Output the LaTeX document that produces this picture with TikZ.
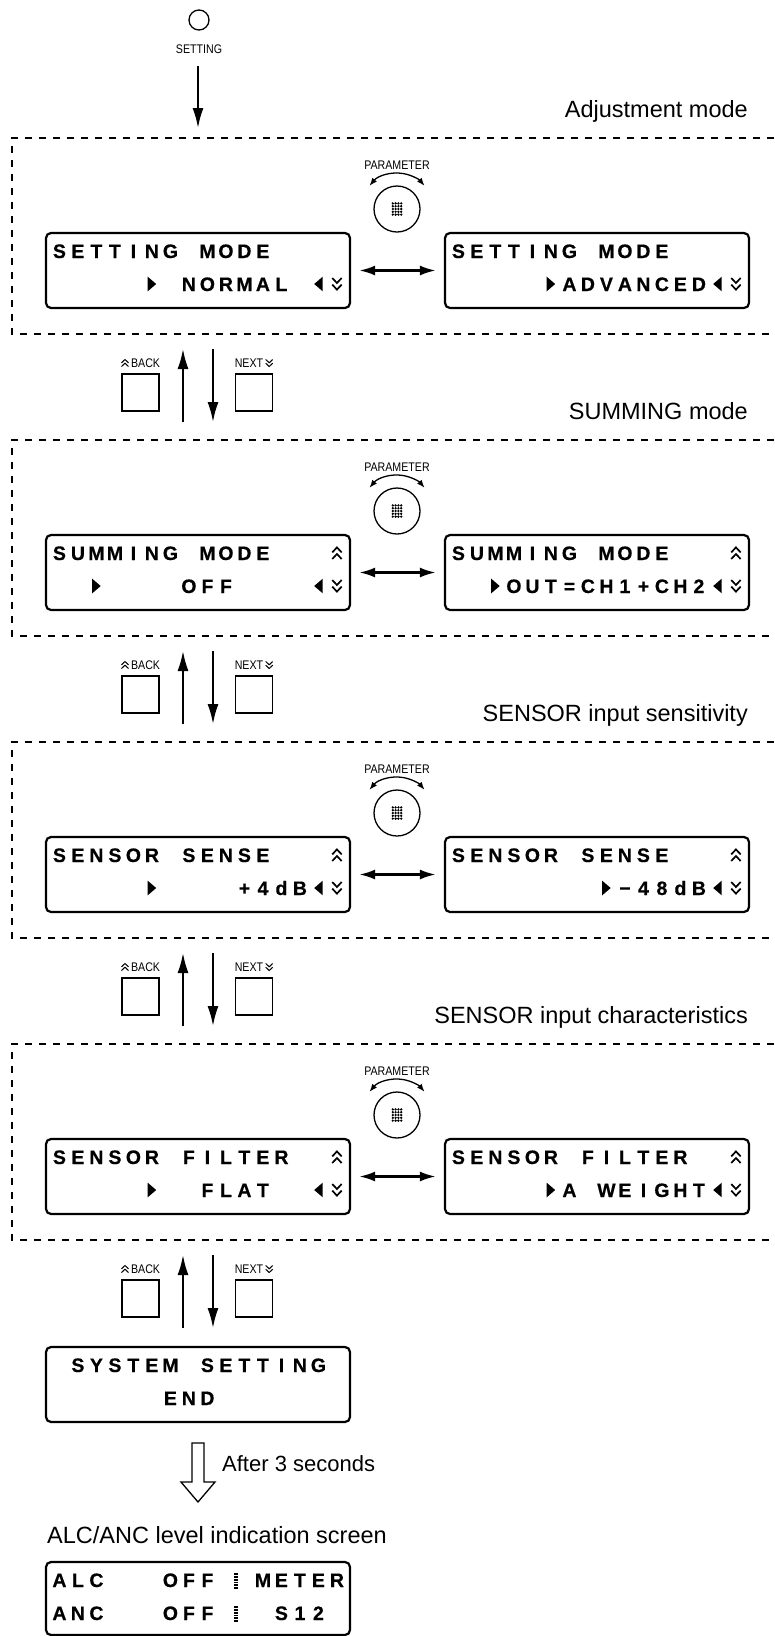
\documentclass[tikz,border=0pt]{standalone}
\usepackage{fontspec}
\setmainfont{Liberation Sans}
\newfontfamily\narrowfamily[FakeStretch=0.85]{Liberation Sans}
\newfontfamily\lcdfamily[FakeBold=0.4]{Liberation Sans Bold}
\usetikzlibrary{arrows.meta}

% one character per LCD cell, "*" is an empty cell
\newlength\lcdcell
\setlength\lcdcell{18.5pt}
\newcommand\lcdglyph[1]{\makebox[\lcdcell][c]{#1}}
\def\lcdrow#1{\lcdstep#1\relax}
\def\lcdstep#1{\ifx#1\relax\else\ifx#1*\lcdglyph{}\else\lcdglyph{#1}\fi\expandafter\lcdstep\fi}

% LCD symbols
\newcommand\tright{\tikz[x=1pt,y=1pt,baseline=0pt]\fill (0,-0.3)--(0,14.3)--(8.5,7)--cycle;}
\newcommand\tleft{\tikz[x=1pt,y=1pt,baseline=0pt]\fill (8.5,-0.3)--(8.5,14.3)--(0,7)--cycle;}
\newcommand\chup{\tikz[x=1pt,y=1pt,baseline=0pt]\draw[line width=1.7pt] (0,1)--(4.7,6)--(9.4,1) (0,7.6)--(4.7,12.6)--(9.4,7.6);}
\newcommand\chdn{\tikz[x=1pt,y=1pt,baseline=0pt]\draw[line width=1.7pt] (0,13)--(4.7,8)--(9.4,13) (0,6.4)--(4.7,1.4)--(9.4,6.4);}
\newcommand\chups{\tikz[x=1pt,y=1pt,baseline=0pt]\draw[line width=1pt] (0,0.5)--(3.5,3.8)--(7,0.5) (0,4.2)--(3.5,7.5)--(7,4.2);}
\newcommand\chdns{\tikz[x=1pt,y=1pt,baseline=0pt]\draw[line width=1pt] (0,7.5)--(3.5,4.2)--(7,7.5) (0,3.8)--(3.5,0.5)--(7,3.8);}
\newcommand\dotbar{\tikz[x=1pt,y=1pt,baseline=0pt]{\useasboundingbox (0,0) rectangle (3,12);
  \foreach \k in {0,1,2,3,4,5} \fill (-9,-2+\k*2.8) rectangle (-5.3,-0.2+\k*2.8);}}

\begin{document}
\begin{tikzpicture}[x=1pt,y=-1pt,>={Latex[length=20pt,width=11pt]},
  lcd/.style={draw,line width=2.2pt,rounded corners=5pt,minimum width=304pt,minimum height=75pt,inner sep=0pt},
  lcdline/.style={anchor=base west,inner sep=0pt,font=\lcdfamily\fontsize{19.5}{20}\selectfont},
  dashbox/.style={line width=2.2pt,dash pattern=on 7pt off 7pt},
  button/.style={draw,line width=1.3pt,minimum size=37pt,inner sep=0pt},
  small/.style={anchor=base,inner sep=0pt,font=\narrowfamily\fontsize{12.5}{14}\selectfont},
  big/.style={inner sep=0pt,font=\fontsize{23.5}{26}\selectfont},
  flow/.style={->,line width=2pt},
  swap/.style={>={Latex[length=16pt,width=10pt]},<->,line width=2.5pt,shorten <=8pt,shorten >=8pt},
  turn/.style={>={Latex[length=8pt,width=6pt]},<->,line width=1.3pt}]
\useasboundingbox (0,0) rectangle (774,1636);

% SETTING key
\node[draw,circle,minimum size=20pt,inner sep=0pt,line width=1.3pt] (setbtn) at (199,20) {};
\node[small] (setlbl) at (199,53) {SETTING};
\coordinate (setfrom) at (198,66);
\coordinate (setto) at (198,128);
\draw[flow] (setfrom) -- (setto);

% the four setting screens
\foreach \by/\mode/\ltop/\lbot/\rtop/\rbot [count=\i] in {
  138/Adjustment mode/SETTING*MODE/*****\tright*NORMAL*\tleft\chdn/SETTING*MODE/*****\tright ADVANCED\tleft\chdn,
  440/SUMMING mode/SUMMING*MODE***\chup/**\tright****OFF****\tleft\chdn/SUMMING*MODE***\chup/**\tright OUT=CH1+CH2\tleft\chdn,
  742/SENSOR input sensitivity/SENSOR*SENSE***\chup/*****\tright****+4dB\tleft\chdn/SENSOR*SENSE***\chup/********\tright−48dB\tleft\chdn,
  1044/SENSOR input characteristics/SENSOR*FILTER**\chup/*****\tright**FLAT**\tleft\chdn/SENSOR*FILTER**\chup/*****\tright A*WEIGHT\tleft\chdn}
{
  \draw[dashbox] (774,\by) -- (12,\by) -- (12,\by+196) -- (774,\by+196);
  \node[big,anchor=base east] (mode\i) at (748,\by-21) {\mode};
  \node[small] (par\i) at (397,\by+31) {PARAMETER};
  \node[draw,circle,minimum size=46pt,inner sep=0pt,line width=1.3pt] (dial\i) at (397,\by+71) {};
  \foreach \gx in {-4.2,-1.4,1.4,4.2} \foreach \gy in {-5.6,-2.8,0,2.8,5.6}
    \fill (397+\gx,\by+71+\gy) circle (1.3);
  \draw[turn] (dial\i.center) ++(-140:36) arc[start angle=-140,end angle=-40,radius=36];
  \node[lcd] (lcdL\i) at (198,\by+132.5) {};
  \node[lcd] (lcdR\i) at (597,\by+132.5) {};
  \node[lcdline] (lcdLa\i) at (50,\by+120) {\expandafter\lcdrow\expandafter{\ltop}};
  \node[lcdline] (lcdLb\i) at (50,\by+153) {\expandafter\lcdrow\expandafter{\lbot}};
  \node[lcdline] (lcdRa\i) at (449,\by+120) {\expandafter\lcdrow\expandafter{\rtop}};
  \node[lcdline] (lcdRb\i) at (449,\by+153) {\expandafter\lcdrow\expandafter{\rbot}};
  \draw[swap] (lcdL\i) -- (lcdR\i);
}

% BACK / NEXT keys between the screens
\foreach \dy [count=\j] in {334,636,938,1240} {
  \node[small] (backlbl\j) at (140.5,\dy+33) {\chups\,BACK};
  \node[small] (nextlbl\j) at (254,\dy+33) {NEXT\,\chdns};
  \node[button] (back\j) at (140.5,\dy+58.5) {};
  \node[button] (next\j) at (254,\dy+58.5) {};
  \coordinate (upfrom\j) at (183,\dy+88);
  \coordinate (upto\j) at (183,\dy+15);
  \coordinate (dnfrom\j) at (213,\dy+15);
  \coordinate (dnto\j) at (213,\dy+88);
  \draw[flow] (upfrom\j) -- (upto\j);
  \draw[flow] (dnfrom\j) -- (dnto\j);
}

% end of the setting
\node[lcd] (sysend) at (198,1384.5) {};
\node[lcdline] (sysendA) at (50,1372) {\lcdrow{*SYSTEM*SETTING}};
\node[lcdline] (sysendB) at (50,1405) {\lcdrow{******END}};
\draw[line width=1.3pt] (192,1443) -- (204,1443) -- (204,1482) -- (215,1482) -- (198,1502) -- (181,1482) -- (192,1482) -- cycle;
\node[big,anchor=base west,font=\fontsize{22}{24}\selectfont] (after) at (222,1471) {After 3 seconds};
\node[big,anchor=base west] (alclbl) at (47,1543) {ALC/ANC level indication screen};
\node[lcd,minimum height=73pt] (alc) at (198,1598.5) {};
\node[lcdline] (alcA) at (50,1587) {\lcdrow{ALC***OFF*\dotbar METER}};
\node[lcdline] (alcB) at (50,1620) {\lcdrow{ANC***OFF*\dotbar *S12}};
\end{tikzpicture}
\end{document}
